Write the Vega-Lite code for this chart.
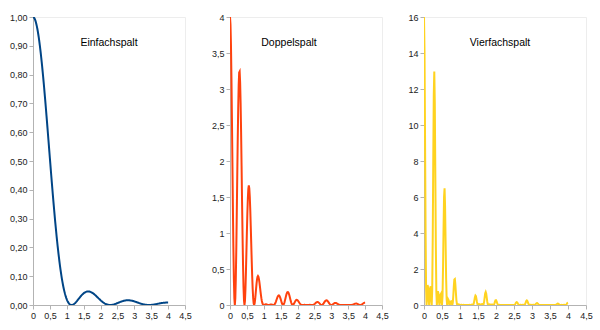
{
"$schema": "https://vega.github.io/schema/vega-lite/v6.json",
"padding": {"left": 8, "top": 12, "right": 5, "bottom": 5},
"background": "white",
"spacing": 18,
"data": {"values": [
{"x":0,"e":1,"d":4,"v":16},
{"x":0.0143,"e":0.9995,"d":3.9,"v":14.111},
{"x":0.0286,"e":0.9979,"d":3.6104,"v":9.452},
{"x":0.0429,"e":0.9954,"d":3.161,"v":4.368},
{"x":0.0571,"e":0.9918,"d":2.5965,"v":0.992},
{"x":0.0714,"e":0.9872,"d":1.9744,"v":0},
{"x":0.0857,"e":0.9816,"d":1.3566,"v":0.518},
{"x":0.1,"e":0.9751,"d":0.8039,"v":1.111},
{"x":0.1143,"e":0.9675,"d":0.3696,"v":0.968},
{"x":0.1286,"e":0.9591,"d":0.0939,"v":0.34},
{"x":0.1429,"e":0.9496,"d":0,"v":0},
{"x":0.1571,"e":0.9393,"d":0.092,"v":0.333},
{"x":0.1714,"e":0.9281,"d":0.3545,"v":0.928},
{"x":0.1857,"e":0.9161,"d":0.7552,"v":1.043},
{"x":0.2,"e":0.9032,"d":1.2482,"v":0.477},
{"x":0.2143,"e":0.8896,"d":1.7792,"v":0},
{"x":0.2286,"e":0.8751,"d":2.291,"v":0.875},
{"x":0.2429,"e":0.86,"d":2.731,"v":3.774},
{"x":0.2571,"e":0.8442,"d":3.0543,"v":7.996},
{"x":0.2714,"e":0.8277,"d":3.2298,"v":11.685},
{"x":0.2857,"e":0.8106,"d":3.2424,"v":12.97},
{"x":0.3,"e":0.7929,"d":3.094,"v":11.194},
{"x":0.3143,"e":0.7747,"d":2.8029,"v":7.338},
{"x":0.3286,"e":0.756,"d":2.4008,"v":3.317},
{"x":0.3429,"e":0.7368,"d":1.9289,"v":0.737},
{"x":0.3571,"e":0.7173,"d":1.4346,"v":0},
{"x":0.3714,"e":0.6974,"d":0.9638,"v":0.368},
{"x":0.3857,"e":0.6771,"d":0.5582,"v":0.771},
{"x":0.4,"e":0.6566,"d":0.2508,"v":0.657},
{"x":0.4143,"e":0.6359,"d":0.0623,"v":0.225},
{"x":0.4286,"e":0.615,"d":0,"v":0},
{"x":0.4429,"e":0.5939,"d":0.0581,"v":0.21},
{"x":0.4571,"e":0.5728,"d":0.2188,"v":0.573},
{"x":0.4714,"e":0.5516,"d":0.4547,"v":0.628},
{"x":0.4857,"e":0.5304,"d":0.733,"v":0.28},
{"x":0.5,"e":0.5092,"d":1.0184,"v":0},
{"x":0.5143,"e":0.4881,"d":1.2778,"v":0.488},
{"x":0.5286,"e":0.4671,"d":1.4833,"v":2.05},
{"x":0.5429,"e":0.4463,"d":1.6147,"v":4.227},
{"x":0.5571,"e":0.4257,"d":1.6611,"v":6.01},
{"x":0.5714,"e":0.4053,"d":1.6212,"v":6.485},
{"x":0.5857,"e":0.3852,"d":1.5031,"v":5.438},
{"x":0.6,"e":0.3653,"d":1.3217,"v":3.46},
{"x":0.6143,"e":0.3459,"d":1.0984,"v":1.518},
{"x":0.6286,"e":0.3268,"d":0.8556,"v":0.327},
{"x":0.6429,"e":0.308,"d":0.616,"v":0},
{"x":0.6571,"e":0.2898,"d":0.4005,"v":0.153},
{"x":0.6714,"e":0.2719,"d":0.2242,"v":0.31},
{"x":0.6857,"e":0.2546,"d":0.0973,"v":0.255},
{"x":0.7,"e":0.2377,"d":0.0233,"v":0.084},
{"x":0.7143,"e":0.2214,"d":0,"v":0},
{"x":0.7286,"e":0.2056,"d":0.0201,"v":0.073},
{"x":0.7429,"e":0.1904,"d":0.0727,"v":0.19},
{"x":0.7571,"e":0.1757,"d":0.1448,"v":0.2},
{"x":0.7714,"e":0.1617,"d":0.2235,"v":0.085},
{"x":0.7857,"e":0.1482,"d":0.2964,"v":0},
{"x":0.8,"e":0.1353,"d":0.3542,"v":0.135},
{"x":0.8143,"e":0.1231,"d":0.3909,"v":0.54},
{"x":0.8286,"e":0.1115,"d":0.4034,"v":1.056},
{"x":0.8429,"e":0.1005,"d":0.3922,"v":1.419},
{"x":0.8571,"e":0.0901,"d":0.3604,"v":1.442},
{"x":0.8714,"e":0.0803,"d":0.3133,"v":1.134},
{"x":0.8857,"e":0.0712,"d":0.2576,"v":0.674},
{"x":0.9,"e":0.0626,"d":0.1988,"v":0.275},
{"x":0.9143,"e":0.0547,"d":0.1432,"v":0.055},
{"x":0.9286,"e":0.0474,"d":0.0948,"v":0},
{"x":0.9429,"e":0.0406,"d":0.0561,"v":0.021},
{"x":0.9571,"e":0.0345,"d":0.0284,"v":0.039},
{"x":0.9714,"e":0.0289,"d":0.011,"v":0.029},
{"x":0.9857,"e":0.0239,"d":0.0023,"v":0.008},
{"x":1,"e":0.0194,"d":0,"v":0},
{"x":1.0143,"e":0.0154,"d":0.0015,"v":0.005},
{"x":1.0286,"e":0.0119,"d":0.0045,"v":0.012},
{"x":1.0429,"e":0.009,"d":0.0074,"v":0.01},
{"x":1.0571,"e":0.0065,"d":0.009,"v":0.003},
{"x":1.0714,"e":0.0044,"d":0.0088,"v":0},
{"x":1.0857,"e":0.0027,"d":0.0071,"v":0.003},
{"x":1.1,"e":0.0015,"d":0.0048,"v":0.007},
{"x":1.1143,"e":0.0007,"d":0.0025,"v":0.006},
{"x":1.1286,"e":0.0002,"d":0.0006,"v":0.002},
{"x":1.1429,"e":0,"d":0,"v":0},
{"x":1.1571,"e":0.0002,"d":0.0006,"v":0.002},
{"x":1.1714,"e":0.0006,"d":0.0021,"v":0.006},
{"x":1.1857,"e":0.0013,"d":0.0041,"v":0.006},
{"x":1.2,"e":0.0022,"d":0.0059,"v":0.002},
{"x":1.2143,"e":0.0034,"d":0.0068,"v":0},
{"x":1.2286,"e":0.0048,"d":0.0066,"v":0.003},
{"x":1.2429,"e":0.0063,"d":0.0052,"v":0.007},
{"x":1.2571,"e":0.008,"d":0.0031,"v":0.008},
{"x":1.2714,"e":0.0098,"d":0.001,"v":0.003},
{"x":1.2857,"e":0.0117,"d":0,"v":0},
{"x":1.3,"e":0.0137,"d":0.0013,"v":0.005},
{"x":1.3143,"e":0.0158,"d":0.006,"v":0.016},
{"x":1.3286,"e":0.0179,"d":0.0148,"v":0.02},
{"x":1.3429,"e":0.02,"d":0.0277,"v":0.011},
{"x":1.3571,"e":0.0222,"d":0.0444,"v":0},
{"x":1.3714,"e":0.0243,"d":0.0636,"v":0.024},
{"x":1.3857,"e":0.0264,"d":0.0839,"v":0.116},
{"x":1.4,"e":0.0285,"d":0.103,"v":0.27},
{"x":1.4143,"e":0.0305,"d":0.119,"v":0.431},
{"x":1.4286,"e":0.0324,"d":0.1297,"v":0.519},
{"x":1.4429,"e":0.0343,"d":0.1338,"v":0.484},
{"x":1.4571,"e":0.036,"d":0.1304,"v":0.341},
{"x":1.4714,"e":0.0377,"d":0.1197,"v":0.165},
{"x":1.4857,"e":0.0392,"d":0.1027,"v":0.039},
{"x":1.5,"e":0.0407,"d":0.0813,"v":0},
{"x":1.5143,"e":0.042,"d":0.058,"v":0.022},
{"x":1.5286,"e":0.0431,"d":0.0355,"v":0.049},
{"x":1.5429,"e":0.0441,"d":0.0169,"v":0.044},
{"x":1.5571,"e":0.045,"d":0.0044,"v":0.016},
{"x":1.5714,"e":0.0457,"d":0,"v":0},
{"x":1.5857,"e":0.0463,"d":0.0045,"v":0.016},
{"x":1.6,"e":0.0468,"d":0.0179,"v":0.047},
{"x":1.6143,"e":0.047,"d":0.0388,"v":0.054},
{"x":1.6286,"e":0.0472,"d":0.0652,"v":0.025},
{"x":1.6429,"e":0.0472,"d":0.0943,"v":0},
{"x":1.6571,"e":0.047,"d":0.1231,"v":0.047},
{"x":1.6714,"e":0.0467,"d":0.1484,"v":0.205},
{"x":1.6857,"e":0.0463,"d":0.1674,"v":0.438},
{"x":1.7,"e":0.0457,"d":0.1784,"v":0.646},
{"x":1.7143,"e":0.045,"d":0.1801,"v":0.721},
{"x":1.7286,"e":0.0442,"d":0.1726,"v":0.624},
{"x":1.7429,"e":0.0433,"d":0.1567,"v":0.41},
{"x":1.7571,"e":0.0423,"d":0.1342,"v":0.186},
{"x":1.7714,"e":0.0411,"d":0.1077,"v":0.041},
{"x":1.7857,"e":0.0399,"d":0.0798,"v":0},
{"x":1.8,"e":0.0386,"d":0.0534,"v":0.02},
{"x":1.8143,"e":0.0372,"d":0.0307,"v":0.042},
{"x":1.8286,"e":0.0358,"d":0.0137,"v":0.036},
{"x":1.8429,"e":0.0343,"d":0.0034,"v":0.012},
{"x":1.8571,"e":0.0328,"d":0,"v":0},
{"x":1.8714,"e":0.0312,"d":0.0031,"v":0.011},
{"x":1.8857,"e":0.0295,"d":0.0113,"v":0.03},
{"x":1.9,"e":0.0279,"d":0.023,"v":0.032},
{"x":1.9143,"e":0.0263,"d":0.0363,"v":0.014},
{"x":1.9286,"e":0.0246,"d":0.0492,"v":0},
{"x":1.9429,"e":0.0229,"d":0.0601,"v":0.023},
{"x":1.9571,"e":0.0213,"d":0.0677,"v":0.094},
{"x":1.9714,"e":0.0197,"d":0.0712,"v":0.187},
{"x":1.9857,"e":0.0181,"d":0.0706,"v":0.256},
{"x":2,"e":0.0165,"d":0.0662,"v":0.265},
{"x":2.0143,"e":0.015,"d":0.0586,"v":0.212},
{"x":2.0286,"e":0.0136,"d":0.0491,"v":0.128},
{"x":2.0429,"e":0.0122,"d":0.0386,"v":0.053},
{"x":2.0571,"e":0.0108,"d":0.0283,"v":0.011},
{"x":2.0714,"e":0.0095,"d":0.019,"v":0},
{"x":2.0857,"e":0.0083,"d":0.0115,"v":0.004},
{"x":2.1,"e":0.0072,"d":0.0059,"v":0.008},
{"x":2.1143,"e":0.0061,"d":0.0023,"v":0.006},
{"x":2.1286,"e":0.0051,"d":0.0005,"v":0.002},
{"x":2.1429,"e":0.0042,"d":0,"v":0},
{"x":2.1571,"e":0.0034,"d":0.0003,"v":0.001},
{"x":2.1714,"e":0.0027,"d":0.001,"v":0.003},
{"x":2.1857,"e":0.002,"d":0.0017,"v":0.002},
{"x":2.2,"e":0.0015,"d":0.0021,"v":0.001},
{"x":2.2143,"e":0.001,"d":0.0021,"v":0},
{"x":2.2286,"e":0.0007,"d":0.0017,"v":0.001},
{"x":2.2429,"e":0.0004,"d":0.0011,"v":0.002},
{"x":2.2571,"e":0.0002,"d":0.0006,"v":0.002},
{"x":2.2714,"e":0,"d":0.0002,"v":0.001},
{"x":2.2857,"e":0,"d":0,"v":0},
{"x":2.3,"e":0,"d":0.0002,"v":0.001},
{"x":2.3143,"e":0.0002,"d":0.0005,"v":0.001},
{"x":2.3286,"e":0.0003,"d":0.0011,"v":0.002},
{"x":2.3429,"e":0.0006,"d":0.0015,"v":0.001},
{"x":2.3571,"e":0.0009,"d":0.0018,"v":0},
{"x":2.3714,"e":0.0013,"d":0.0018,"v":0.001},
{"x":2.3857,"e":0.0017,"d":0.0014,"v":0.002},
{"x":2.4,"e":0.0022,"d":0.0008,"v":0.002},
{"x":2.4143,"e":0.0027,"d":0.0003,"v":0.001},
{"x":2.4286,"e":0.0033,"d":0,"v":0},
{"x":2.4429,"e":0.0039,"d":0.0004,"v":0.001},
{"x":2.4571,"e":0.0045,"d":0.0017,"v":0.005},
{"x":2.4714,"e":0.0052,"d":0.0043,"v":0.006},
{"x":2.4857,"e":0.0059,"d":0.0081,"v":0.003},
{"x":2.5,"e":0.0065,"d":0.0131,"v":0},
{"x":2.5143,"e":0.0072,"d":0.0189,"v":0.007},
{"x":2.5286,"e":0.0079,"d":0.0252,"v":0.035},
{"x":2.5429,"e":0.0086,"d":0.0312,"v":0.082},
{"x":2.5571,"e":0.0093,"d":0.0364,"v":0.132},
{"x":2.5714,"e":0.01,"d":0.04,"v":0.16},
{"x":2.5857,"e":0.0107,"d":0.0416,"v":0.151},
{"x":2.6,"e":0.0113,"d":0.041,"v":0.107},
{"x":2.6143,"e":0.0119,"d":0.0379,"v":0.052},
{"x":2.6286,"e":0.0125,"d":0.0328,"v":0.013},
{"x":2.6429,"e":0.0131,"d":0.0262,"v":0},
{"x":2.6571,"e":0.0136,"d":0.0188,"v":0.007},
{"x":2.6714,"e":0.0141,"d":0.0116,"v":0.016},
{"x":2.6857,"e":0.0146,"d":0.0056,"v":0.015},
{"x":2.7,"e":0.015,"d":0.0015,"v":0.005},
{"x":2.7143,"e":0.0153,"d":0,"v":0},
{"x":2.7286,"e":0.0157,"d":0.0015,"v":0.006},
{"x":2.7429,"e":0.0159,"d":0.0061,"v":0.016},
{"x":2.7571,"e":0.0161,"d":0.0133,"v":0.018},
{"x":2.7714,"e":0.0163,"d":0.0225,"v":0.009},
{"x":2.7857,"e":0.0164,"d":0.0328,"v":0},
{"x":2.8,"e":0.0165,"d":0.0431,"v":0.016},
{"x":2.8143,"e":0.0165,"d":0.0523,"v":0.072},
{"x":2.8286,"e":0.0164,"d":0.0595,"v":0.156},
{"x":2.8429,"e":0.0164,"d":0.0638,"v":0.231},
{"x":2.8571,"e":0.0162,"d":0.0648,"v":0.259},
{"x":2.8714,"e":0.016,"d":0.0626,"v":0.226},
{"x":2.8857,"e":0.0158,"d":0.0571,"v":0.15},
{"x":2.9,"e":0.0155,"d":0.0493,"v":0.068},
{"x":2.9143,"e":0.0152,"d":0.0398,"v":0.015},
{"x":2.9286,"e":0.0148,"d":0.0297,"v":0},
{"x":2.9429,"e":0.0145,"d":0.02,"v":0.008},
{"x":2.9571,"e":0.014,"d":0.0116,"v":0.016},
{"x":2.9714,"e":0.0136,"d":0.0052,"v":0.014},
{"x":2.9857,"e":0.0131,"d":0.0013,"v":0.005},
{"x":3,"e":0.0126,"d":0,"v":0},
{"x":3.0143,"e":0.012,"d":0.0012,"v":0.004},
{"x":3.0286,"e":0.0115,"d":0.0044,"v":0.012},
{"x":3.0429,"e":0.0109,"d":0.009,"v":0.012},
{"x":3.0571,"e":0.0103,"d":0.0142,"v":0.005},
{"x":3.0714,"e":0.0097,"d":0.0194,"v":0},
{"x":3.0857,"e":0.0091,"d":0.0238,"v":0.009},
{"x":3.1,"e":0.0085,"d":0.027,"v":0.037},
{"x":3.1143,"e":0.0079,"d":0.0285,"v":0.075},
{"x":3.1286,"e":0.0073,"d":0.0284,"v":0.103},
{"x":3.1429,"e":0.0067,"d":0.0268,"v":0.107},
{"x":3.1571,"e":0.0061,"d":0.0239,"v":0.086},
{"x":3.1714,"e":0.0056,"d":0.0201,"v":0.053},
{"x":3.1857,"e":0.005,"d":0.0159,"v":0.022},
{"x":3.2,"e":0.0045,"d":0.0117,"v":0.004},
{"x":3.2143,"e":0.004,"d":0.0079,"v":0},
{"x":3.2286,"e":0.0035,"d":0.0048,"v":0.002},
{"x":3.2429,"e":0.003,"d":0.0025,"v":0.003},
{"x":3.2571,"e":0.0026,"d":0.001,"v":0.003},
{"x":3.2714,"e":0.0022,"d":0.0002,"v":0.001},
{"x":3.2857,"e":0.0018,"d":0,"v":0},
{"x":3.3,"e":0.0015,"d":0.0001,"v":0.001},
{"x":3.3143,"e":0.0012,"d":0.0004,"v":0.001},
{"x":3.3286,"e":0.0009,"d":0.0007,"v":0.001},
{"x":3.3429,"e":0.0007,"d":0.0009,"v":0},
{"x":3.3571,"e":0.0005,"d":0.0009,"v":0},
{"x":3.3714,"e":0.0003,"d":0.0007,"v":0},
{"x":3.3857,"e":0.0002,"d":0.0005,"v":0.001},
{"x":3.4,"e":0.0001,"d":0.0003,"v":0.001},
{"x":3.4143,"e":0,"d":0.0001,"v":0},
{"x":3.4286,"e":0,"d":0,"v":0},
{"x":3.4429,"e":0,"d":0.0001,"v":0},
{"x":3.4571,"e":0.0001,"d":0.0003,"v":0.001},
{"x":3.4714,"e":0.0002,"d":0.0005,"v":0.001},
{"x":3.4857,"e":0.0003,"d":0.0007,"v":0},
{"x":3.5,"e":0.0004,"d":0.0008,"v":0},
{"x":3.5143,"e":0.0006,"d":0.0008,"v":0},
{"x":3.5286,"e":0.0008,"d":0.0006,"v":0.001},
{"x":3.5429,"e":0.001,"d":0.0004,"v":0.001},
{"x":3.5571,"e":0.0013,"d":0.0001,"v":0},
{"x":3.5714,"e":0.0015,"d":0,"v":0},
{"x":3.5857,"e":0.0018,"d":0.0002,"v":0.001},
{"x":3.6,"e":0.0021,"d":0.0008,"v":0.002},
{"x":3.6143,"e":0.0024,"d":0.002,"v":0.003},
{"x":3.6286,"e":0.0027,"d":0.0038,"v":0.001},
{"x":3.6429,"e":0.0031,"d":0.0062,"v":0},
{"x":3.6571,"e":0.0034,"d":0.009,"v":0.003},
{"x":3.6714,"e":0.0038,"d":0.0119,"v":0.017},
{"x":3.6857,"e":0.0041,"d":0.0149,"v":0.039},
{"x":3.7,"e":0.0045,"d":0.0174,"v":0.063},
{"x":3.7143,"e":0.0048,"d":0.0192,"v":0.077},
{"x":3.7286,"e":0.0051,"d":0.02,"v":0.072},
{"x":3.7429,"e":0.0055,"d":0.0198,"v":0.052},
{"x":3.7571,"e":0.0058,"d":0.0184,"v":0.025},
{"x":3.7714,"e":0.0061,"d":0.0159,"v":0.006},
{"x":3.7857,"e":0.0064,"d":0.0128,"v":0},
{"x":3.8,"e":0.0067,"d":0.0092,"v":0.004},
{"x":3.8143,"e":0.0069,"d":0.0057,"v":0.008},
{"x":3.8286,"e":0.0072,"d":0.0027,"v":0.007},
{"x":3.8429,"e":0.0074,"d":0.0007,"v":0.003},
{"x":3.8571,"e":0.0076,"d":0,"v":0},
{"x":3.8714,"e":0.0078,"d":0.0008,"v":0.003},
{"x":3.8857,"e":0.0079,"d":0.003,"v":0.008},
{"x":3.9,"e":0.0081,"d":0.0066,"v":0.009},
{"x":3.9143,"e":0.0082,"d":0.0113,"v":0.004},
{"x":3.9286,"e":0.0083,"d":0.0165,"v":0},
{"x":3.9429,"e":0.0083,"d":0.0217,"v":0.008},
{"x":3.9571,"e":0.0083,"d":0.0265,"v":0.037},
{"x":3.9714,"e":0.0083,"d":0.0302,"v":0.079},
{"x":3.9857,"e":0.0083,"d":0.0325,"v":0.118},
{"x":4,"e":0.0083,"d":0.0331,"v":0.132}
]},
"hconcat": [
{
"width": 152, "height": 288,
"title": {"text": "Einfachspalt", "offset": -40, "baseline": "middle"},
"mark": {"type": "line", "color": "#004586", "strokeWidth": 2, "clip": true},
"encoding": {
"x": {"field": "x", "type": "quantitative", "scale": {"domain": [0, 4.5], "nice": false}, "axis": {"values": [0,0.5,1,1.5,2,2.5,3,3.5,4,4.5], "labelExpr": "replace(format(datum.value, '~g'), '.', ',')"}},
"y": {"field": "e", "type": "quantitative", "scale": {"domain": [0, 1], "nice": false}, "axis": {"values": [0,0.1,0.2,0.3,0.4,0.5,0.6,0.7,0.8,0.9,1], "labelExpr": "replace(format(datum.value, '.2f'), '.', ',')"}}
}
},
{
"width": 152, "height": 288,
"title": {"text": "Doppelspalt", "offset": -40, "baseline": "middle", "dx": -17},
"mark": {"type": "line", "color": "#ff420e", "strokeWidth": 2, "clip": true},
"encoding": {
"x": {"field": "x", "type": "quantitative", "scale": {"domain": [0, 4.5], "nice": false}, "axis": {"values": [0,0.5,1,1.5,2,2.5,3,3.5,4,4.5], "labelExpr": "replace(format(datum.value, '~g'), '.', ',')"}},
"y": {"field": "d", "type": "quantitative", "scale": {"domain": [0, 4], "nice": false}, "axis": {"values": [0,0.5,1,1.5,2,2.5,3,3.5,4], "labelExpr": "replace(format(datum.value, '~g'), '.', ',')"}}
}
},
{
"width": 162, "height": 288,
"title": {"text": "Vierfachspalt", "offset": -40, "baseline": "middle", "dx": -5},
"mark": {"type": "line", "color": "#ffd320", "strokeWidth": 2, "clip": true},
"encoding": {
"x": {"field": "x", "type": "quantitative", "scale": {"domain": [0, 4.5], "nice": false}, "axis": {"values": [0,0.5,1,1.5,2,2.5,3,3.5,4,4.5], "labelExpr": "replace(format(datum.value, '~g'), '.', ',')"}},
"y": {"field": "v", "type": "quantitative", "scale": {"domain": [0, 16], "nice": false}, "axis": {"values": [0,2,4,6,8,10,12,14,16], "labelExpr": "format(datum.value, 'd')"}}
}
}
],
"config": {
"view": {"stroke": "#ededed", "strokeWidth": 1},
"title": {"font": "Liberation Sans", "fontSize": 10.5, "fontWeight": "normal", "color": "#000000", "anchor": "middle", "frame": "group"},
"axis": {"title": null, "grid": false, "domainColor": "#b3b3b3", "tickColor": "#b3b3b3", "tickSize": 4, "labelFont": "Liberation Sans", "labelFontSize": 9, "labelColor": "#222222", "labelPadding": 2, "labelOverlap": false, "labelFlush": false}
}
}
